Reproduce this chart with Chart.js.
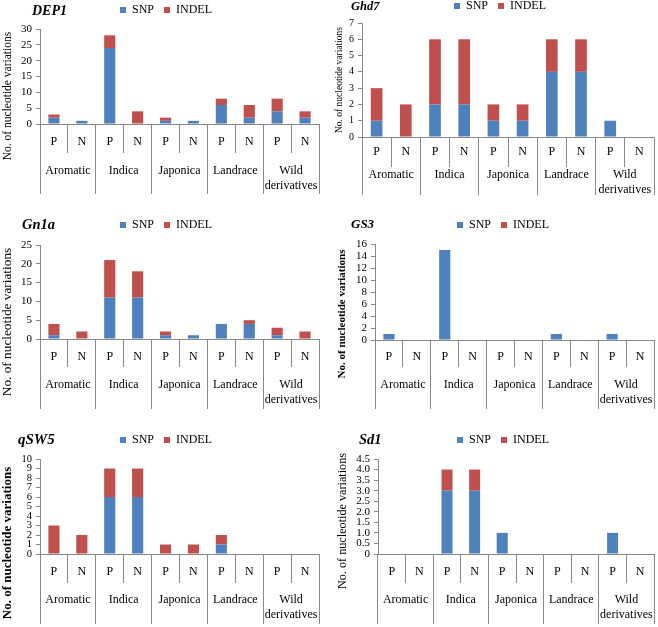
<!DOCTYPE html>
<html>
<head>
<meta charset="utf-8">
<script src="https://cdn.jsdelivr.net/npm/chart.js@4.4.0/dist/chart.umd.min.js"></script>
<style>
  html, body { margin: 0; padding: 0; background: #fff; }
  #wrap { position: relative; width: 658px; height: 627px; }
  #wrap canvas { position: absolute; }
</style>
</head>
<body>
<div id="wrap"></div>
<script>
// categorias del eje X
const subLabels = ['P', 'N', 'P', 'N', 'P', 'N', 'P', 'N', 'P', 'N'];
const groupLabels = ['Aromatic', 'Indica', 'Japonica', 'Landrace', ['Wild', 'derivatives']];
const yTitle = 'No. of nucleotide variations';

// valores (SNP abajo, INDEL arriba)
const dep1Snp = [2, 1, 24, 0, 1, 1, 6, 2, 4, 2];
const dep1Indel = [1, 0, 4, 4, 1, 0, 2, 4, 4, 2];
const ghd7Snp = [1, 0, 2, 2, 1, 1, 4, 4, 1, 0];
const ghd7Indel = [2, 2, 4, 4, 1, 1, 2, 2, 0, 0];
const gn1aSnp = [1, 0, 11, 11, 1, 1, 4, 4, 1, 0];
const gn1aIndel = [3, 2, 10, 7, 1, 0, 0, 1, 2, 2];
const gs3Snp = [1, 0, 15, 0, 0, 0, 1, 0, 1, 0];
const gs3Indel = [0, 0, 0, 0, 0, 0, 0, 0, 0, 0];
const qsw5Snp = [0, 0, 6, 6, 0, 0, 1, 0, 0, 0];
const qsw5Indel = [3, 2, 3, 3, 1, 1, 1, 0, 0, 0];
const sd1Snp = [0, 0, 3, 3, 1, 0, 0, 0, 1, 0];
const sd1Indel = [0, 0, 1, 1, 0, 0, 0, 0, 0, 0];

// escalas Y
const yMax = [30, 7, 25, 16, 10, 4.5];
const yStep = [5, 1, 5, 2, 1, 0.5];
const genes = ['DEP1', 'Ghd7', 'Gn1a', 'GS3', 'qSW5', 'Sd1'];
const snpSeries = [dep1Snp, ghd7Snp, gn1aSnp, gs3Snp, qsw5Snp, sd1Snp];
const indelSeries = [dep1Indel, ghd7Indel, gn1aIndel, gs3Indel, qsw5Indel, sd1Indel];

const SNP_COLOR = '#4F81BD';
const INDEL_COLOR = '#C0504D';
const AXIS_COLOR = '#898989';
const FONT = '"Liberation Serif", "Times New Roman", serif';

// geometria de cada panel (pixeles dentro de su celda)
const layouts = [
  { left: 0,   top: 0,   h: 210, axisX: 40, cTop: 29, cBot: 124, right: 319, row1: 153, row2: 194, pn: 142, grp: 171, legC: 10, legL: 120, gx: 32, gy: 11,  gs: 14,   tx: 8,  ty: 96,  ts: 11.5, tb: false, tick: 11 },
  { left: 329, top: 0,   h: 210, axisX: 33, cTop: 23, cBot: 137, right: 325, row1: 167, row2: 195, pn: 152, grp: 175, legC: 6,  legL: 128, gx: 22, gy: 6.5, gs: 12.5, tx: 10, ty: 80,  ts: 9.5,  tb: false, tick: 10 },
  { left: 0,   top: 210, h: 210, axisX: 40, cTop: 35, cBot: 129, right: 319, row1: 157, row2: 199, pn: 147, grp: 175, legC: 15, legL: 120, gx: 22, gy: 15,  gs: 14.5, tx: 8,  ty: 112, ts: 13.3, tb: false, tick: 11 },
  { left: 329, top: 210, h: 210, axisX: 46, cTop: 34, cBot: 130, right: 325, row1: 157, row2: 199, pn: 147, grp: 175, legC: 15, legL: 128, gx: 22, gy: 15,  gs: 13,   tx: 13, ty: 104, ts: 11,   tb: true,  tick: 11 },
  { left: 0,   top: 420, h: 207, axisX: 40, cTop: 39, cBot: 134, right: 319, row1: 163, row2: 204, pn: 152, grp: 180, legC: 20, legL: 120, gx: 18, gy: 20,  gs: 15,   tx: 8,  ty: 123, ts: 13,   tb: true,  tick: 10.5 },
  { left: 329, top: 420, h: 207, axisX: 49, cTop: 39, cBot: 134, right: 325, row1: 163, row2: 204, pn: 152, grp: 180, legC: 20, legL: 128, gx: 30, gy: 20,  gs: 14.5, tx: 14, ty: 101, ts: 12.2, tb: false, tick: 11 }
];

// texto del gen y titulo del eje Y
const panelText = {
  id: 'panelText',
  afterDraw(chart, args, opts) {
    const ctx = chart.ctx;
    ctx.save();
    ctx.fillStyle = '#000';
    ctx.textBaseline = 'middle';
    ctx.textAlign = 'left';
    ctx.font = `bold italic ${opts.geneSize}px ${FONT}`;
    ctx.fillText(opts.gene, opts.geneX, opts.geneY);
    ctx.translate(opts.titleX, opts.titleY);
    ctx.rotate(-Math.PI / 2);
    ctx.textAlign = 'center';
    ctx.font = `${opts.titleBold ? 'bold ' : ''}${opts.titleSize}px ${FONT}`;
    ctx.fillText(yTitle, 0, 0);
    ctx.restore();
  }
};

const W = 329;
const LEG_PAD = 10;
const LEG_FONT = 12;
const LEG_WIDTH = 102; // ancho aproximado de la leyenda

const wrap = document.getElementById('wrap');

layouts.forEach((L, i) => {
  const canvas = document.createElement('canvas');
  canvas.width = W;
  canvas.height = L.h;
  canvas.style.left = L.left + 'px';
  canvas.style.top = L.top + 'px';
  canvas.style.width = W + 'px';
  canvas.style.height = L.h + 'px';
  wrap.appendChild(canvas);

  const padRight = W - L.right;
  // el eje Y necesita sitio para sus etiquetas (se recortan a su caja)
  const padLeft = Math.min(Math.round(2 * L.legL - LEG_PAD - W + padRight + LEG_WIDTH), L.axisX - 16);
  const padTop = L.legC - LEG_PAD - LEG_FONT / 2;
  const legendH = LEG_FONT + LEG_PAD + 10;
  const gapH = Math.max(L.cTop - padTop - legendH, 0);
  const row1H = L.row1 - L.cBot;
  const row2H = L.row2 - L.row1;
  const lh = 1.2;

  new Chart(canvas.getContext('2d'), {
    type: 'bar',
    data: {
      labels: subLabels,
      datasets: [
        { label: 'SNP', data: snpSeries[i], backgroundColor: SNP_COLOR, borderWidth: 0 },
        { label: 'INDEL', data: indelSeries[i], backgroundColor: INDEL_COLOR, borderWidth: 0 }
      ]
    },
    options: {
      responsive: false,
      animation: false,
      barPercentage: 1,
      categoryPercentage: 0.4,
      layout: { padding: { left: padLeft, right: padRight, top: padTop, bottom: L.h - L.row2 } },
      plugins: {
        tooltip: { enabled: false },
        legend: {
          position: 'top',
          labels: {
            boxWidth: 6, boxHeight: 6, padding: LEG_PAD, color: '#000',
            font: { family: FONT, size: LEG_FONT }
          }
        },
        panelText: {
          gene: genes[i], geneX: L.gx, geneY: L.gy, geneSize: L.gs,
          titleX: L.tx, titleY: L.ty, titleSize: L.ts, titleBold: L.tb
        }
      },
      scales: {
        x: {
          stacked: true,
          offset: true,
          weight: 0,
          grid: { offset: true, drawOnChartArea: false, tickLength: row1H, color: AXIS_COLOR },
          border: { color: AXIS_COLOR },
          ticks: {
            color: '#000', font: { family: FONT, size: 12 }, maxRotation: 0, autoSkip: false,
            padding: (L.pn - L.cBot) - row1H - 12 * lh / 2
          },
          afterFit: s => { s.height = row1H; }
        },
        x2: {
          type: 'category',
          position: 'bottom',
          labels: groupLabels,
          offset: true,
          weight: 1,
          grid: { offset: true, drawOnChartArea: false, tickLength: row2H, color: AXIS_COLOR },
          border: { display: false },
          ticks: {
            color: '#000', font: { family: FONT, size: 12 }, maxRotation: 0, autoSkip: false,
            padding: (L.grp - L.row1) - row2H - 12 * lh / 2
          },
          afterFit: s => { s.height = row2H; }
        },
        gap: {
          type: 'category',
          position: 'top',
          labels: [''],
          grid: { display: false },
          border: { display: false },
          ticks: { display: false },
          afterFit: s => { s.height = gapH; }
        },
        y: {
          stacked: true,
          min: 0,
          max: yMax[i],
          grid: { drawOnChartArea: false, tickLength: 4, color: AXIS_COLOR },
          border: { color: AXIS_COLOR },
          ticks: {
            stepSize: yStep[i], autoSkip: false, padding: 4, color: '#000',
            font: { family: FONT, size: L.tick }
          },
          afterFit: s => { s.width = L.axisX - padLeft; }
        }
      }
    },
    plugins: [panelText]
  });
});
</script>
</body>
</html>
